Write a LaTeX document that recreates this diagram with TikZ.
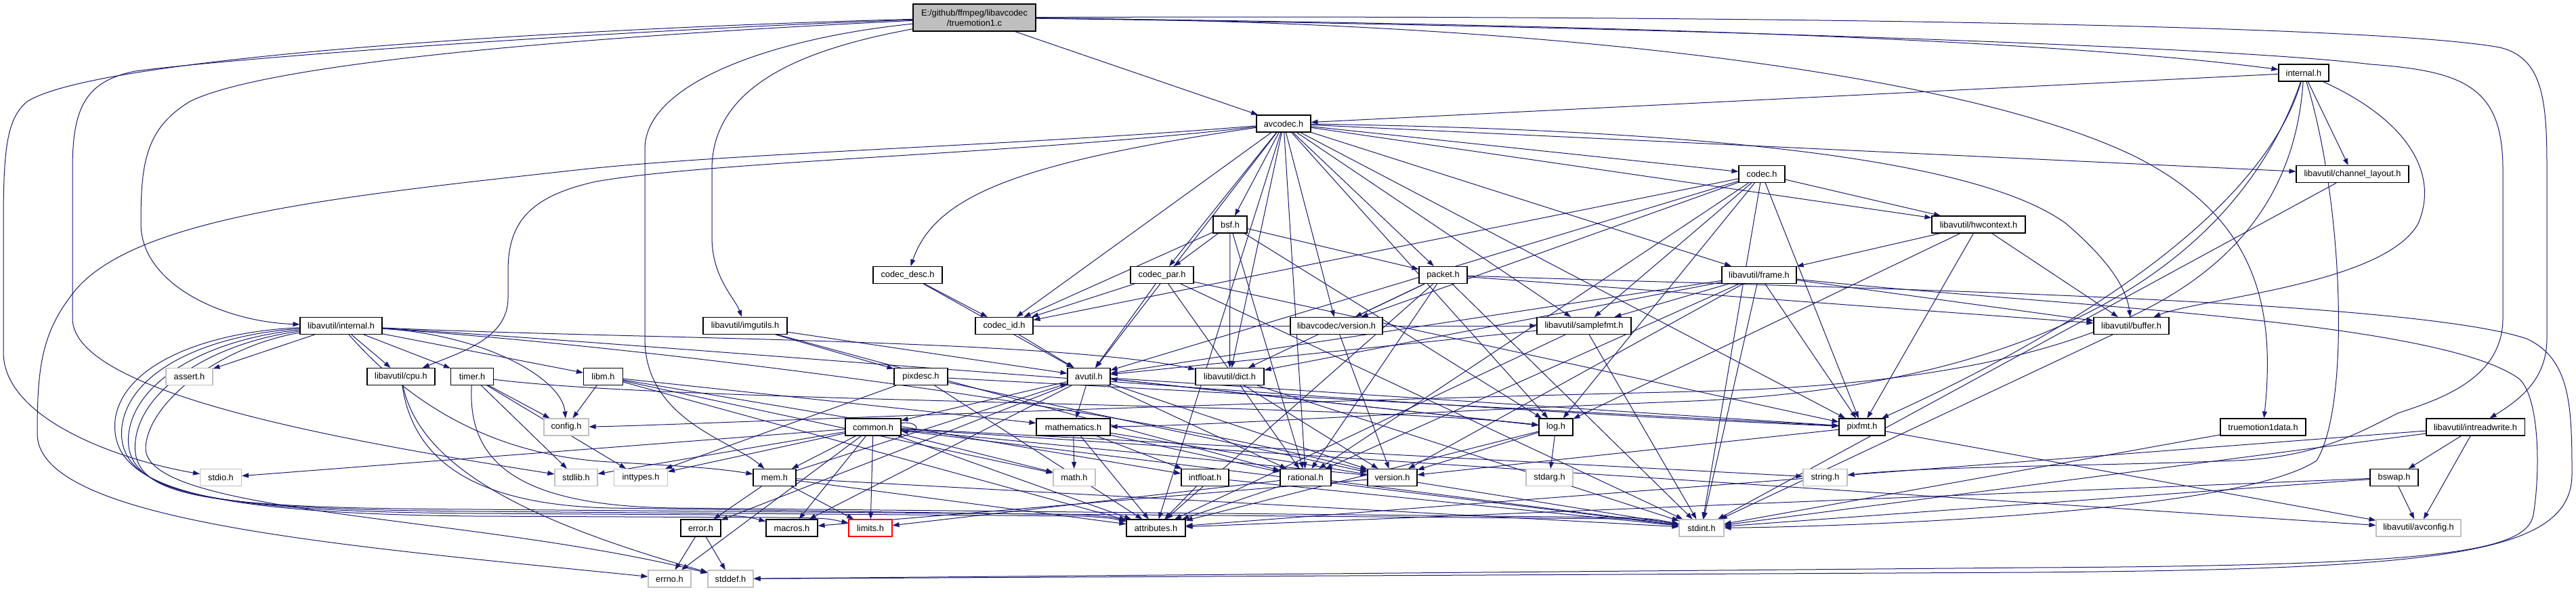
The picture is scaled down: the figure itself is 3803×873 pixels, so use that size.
\documentclass[tikz,border=0pt]{standalone}
\usepackage{fontspec}
\setmainfont{Liberation Sans}
\usetikzlibrary{arrows.meta}
\definecolor{edgec}{RGB}{25,25,112}
\definecolor{grayb}{RGB}{191,191,191}
\pgfdeclarelayer{bg}
\pgfsetlayers{bg,main}
\begin{document}
\begin{tikzpicture}[x=1pt,y=-1pt,
  nb/.style={draw=black, line width=1.1pt, fill=white, minimum height=25pt, inner sep=0pt, font=\fontsize{12.8pt}{15pt}\selectfont},
  ng/.style={nb, draw=grayb},
  nr/.style={nb, draw=red},
  e/.style={draw=edgec, line width=1pt, -{Triangle[length=10pt,width=7pt]}}]
\useasboundingbox (0,0) rectangle (3803,873);
% nodes
\node[nb,fill=grayb,minimum width=181pt,minimum height=40pt,align=center] (root) at (1438.5,26) {E:/github/ffmpeg/libavcodec\\/truemotion1.c};
\node[nb,minimum width=80pt] (avcodec) at (1895,182.5) {avcodec.h};
\node[nb,minimum width=74pt] (lcinternal) at (3401,107.5) {internal.h};
\node[nb,minimum width=68pt] (codec) at (2601,257) {codec.h};
\node[nb,minimum width=166pt] (chlayout) at (3473,257) {libavutil/channel\_layout.h};
\node[nb,minimum width=50pt] (bsf) at (1816,331.5) {bsf.h};
\node[nb,minimum width=138pt] (hwctx) at (2921,331.5) {libavutil/hwcontext.h};
\node[nb,minimum width=102pt] (cdesc) at (1340,406) {codec\_desc.h};
\node[nb,minimum width=93pt] (cpar) at (1715.5,406) {codec\_par.h};
\node[nb,minimum width=71pt] (packet) at (2130.5,406) {packet.h};
\node[nb,minimum width=110pt] (frame) at (2597,406) {libavutil/frame.h};
\node[nb,minimum width=121pt] (luinternal) at (503.5,481) {libavutil/internal.h};
\node[nb,minimum width=124pt] (imgutils) at (1100,481) {libavutil/imgutils.h};
\node[nb,minimum width=85pt] (cid) at (1482.5,481) {codec\_id.h};
\node[nb,minimum width=136pt] (lcversion) at (1973,481) {libavcodec/version.h};
\node[nb,minimum width=139pt] (samplefmt) at (2338.5,481) {libavutil/samplefmt.h};
\node[nb,minimum width=111pt] (buffer) at (3146.5,481) {libavutil/buffer.h};
\node[ng,minimum width=69pt] (assert) at (279.5,556) {assert.h};
\node[nb,minimum width=100pt] (cpu) at (592,556) {libavutil/cpu.h};
\node[nb,minimum width=63pt] (timer) at (697,556) {timer.h};
\node[nb,minimum width=58pt] (libm) at (890.5,556) {libm.h};
\node[nb,minimum width=79pt] (pixdesc) at (1359.5,556) {pixdesc.h};
\node[nb,minimum width=63pt] (avutil) at (1607.5,556) {avutil.h};
\node[nb,minimum width=101pt] (dict) at (1815.5,556) {libavutil/dict.h};
\node[ng,minimum width=66pt] (config) at (836,630.5) {config.h};
\node[nb,minimum width=82pt] (common) at (1289,630.5) {common.h};
\node[nb,minimum width=109pt] (mathem) at (1584.5,630.5) {mathematics.h};
\node[nb,minimum width=50pt] (log) at (2297,630.5) {log.h};
\node[nb,minimum width=68pt] (pixfmt) at (2749,630.5) {pixfmt.h};
\node[nb,minimum width=126pt] (tmdata) at (3341,630.5) {truemotion1data.h};
\node[nb,minimum width=145pt] (intrw) at (3654.5,630.5) {libavutil/intreadwrite.h};
\node[ng,minimum width=61pt] (stdio) at (326,705) {stdio.h};
\node[ng,minimum width=63pt] (stdlib) at (850.5,705) {stdlib.h};
\node[ng,minimum width=79pt] (inttypes) at (946,705) {inttypes.h};
\node[nb,minimum width=63pt] (mem) at (1143.5,705) {mem.h};
\node[ng,minimum width=62pt] (math) at (1586,705) {math.h};
\node[nb,minimum width=70pt] (intfloat) at (1779,705) {intfloat.h};
\node[nb,minimum width=75pt] (rational) at (1927.5,705) {rational.h};
\node[nb,minimum width=73pt] (version) at (2055.5,705) {version.h};
\node[ng,minimum width=69pt] (stdarg) at (2287.5,705) {stdarg.h};
\node[ng,minimum width=65pt] (string) at (2694.5,705) {string.h};
\node[nb,minimum width=71pt] (bswap) at (3534.5,705) {bswap.h};
\node[nb,minimum width=59pt] (error) at (1034.5,779.5) {error.h};
\node[nb,minimum width=76pt] (macros) at (1169,779.5) {macros.h};
\node[nr,minimum width=64pt] (limits) at (1285,779.5) {limits.h};
\node[nb,minimum width=87pt] (attributes) at (1706.5,779.5) {attributes.h};
\node[ng,minimum width=66pt] (stdint) at (2512,779.5) {stdint.h};
\node[ng,minimum width=125pt] (avconfig) at (3570.5,779.5) {libavutil/avconfig.h};
\node[ng,minimum width=63pt] (errno) at (988.5,854.5) {errno.h};
\node[ng,minimum width=67pt] (stddef) at (1078.5,854.5) {stddef.h};
\begin{pgfonlayer}{bg}
\fill[white] (0,0) rectangle (3803,873);
% straight edges
\foreach \a/\b in {root/avcodec,
 avcodec/samplefmt, avcodec/attributes, avcodec/avutil, avcodec/chlayout, avcodec/dict, avcodec/frame, avcodec/hwctx, avcodec/log, avcodec/pixfmt, avcodec/rational, avcodec/bsf, avcodec/codec, avcodec/cpar, avcodec/cid, avcodec/packet, avcodec/lcversion,
 lcinternal/avcodec, lcinternal/chlayout,
 codec/stdint, codec/avutil, codec/hwctx, codec/log, codec/pixfmt, codec/rational, codec/samplefmt, codec/cid, codec/lcversion,
 chlayout/stdint,
 bsf/dict, bsf/log, bsf/rational, bsf/cid, bsf/cpar, bsf/packet,
 hwctx/buffer, hwctx/frame, hwctx/log, hwctx/pixfmt,
 cdesc/avutil, cdesc/cid,
 cpar/stdint, cpar/avutil, cpar/rational, cpar/pixfmt, cpar/cid,
 packet/stdint, packet/attributes, packet/buffer, packet/dict, packet/rational, packet/lcversion,
 frame/stdint, frame/avutil, frame/buffer, frame/dict, frame/rational, frame/samplefmt, frame/pixfmt, frame/version,
 luinternal/assert, luinternal/timer, luinternal/cpu, luinternal/libm,
 imgutils/avutil, imgutils/pixdesc, imgutils/rational,
 cid/avutil, cid/samplefmt,
 lcversion/version,
 samplefmt/stdint, samplefmt/avutil, samplefmt/attributes,
 buffer/stdint,
 timer/config, timer/stdlib, timer/inttypes,
 libm/math, libm/config, libm/attributes, libm/intfloat, libm/mathem,
 pixdesc/inttypes, pixdesc/attributes, pixdesc/pixfmt, pixdesc/version,
 avutil/common, avutil/error, avutil/rational, avutil/version, avutil/macros, avutil/mathem, avutil/log, avutil/pixfmt,
 dict/stdint, dict/version,
 common/errno, common/inttypes, common/limits, common/math, common/stdint, common/stdio, common/stdlib, common/string, common/attributes, common/macros, common/version, common/avconfig, common/mem,
 mathem/stdint, mathem/math, mathem/attributes, mathem/rational, mathem/intfloat,
 log/stdarg, log/avutil, log/attributes, log/version,
 pixfmt/avconfig, pixfmt/version,
 tmdata/stdint,
 intrw/stdint, intrw/avconfig, intrw/attributes, intrw/bswap,
 mem/limits, mem/stdint, mem/attributes, mem/error, mem/avutil,
 intfloat/stdint, intfloat/attributes,
 rational/stdint, rational/limits, rational/attributes,
 version/macros,
 bswap/stdint, bswap/avconfig, bswap/attributes,
 error/errno, error/stddef}
 {\draw[e] (\a) -- (\b);}
% root curved edges
\draw[e] (root) .. controls (900,40) and (150,80) .. (40,150) .. controls (10,175) and (5,220) .. (5,330) -- (5,520) .. controls (5,620) and (180,680) .. (stdio);
\draw[e] (root) .. controls (900,45) and (350,85) .. (200,105) .. controls (125,120) and (107,160) .. (107,250) -- (107,470) .. controls (107,580) and (500,650) .. (stdlib);
\draw[e] (root) .. controls (900,52) and (400,90) .. (280,150) .. controls (215,190) and (208,240) .. (208,330) .. controls (208,420) and (330,475) .. (luinternal);
\draw[e] (root) .. controls (1200,70) and (1051,120) .. (1051,250) -- (1051,350) .. controls (1051,410) and (1085,440) .. (imgutils);
\draw[e] (root) .. controls (1150,55) and (952,120) .. (952,220) -- (952,500) .. controls (952,620) and (1080,650) .. (mem);
\draw[e] (root) .. controls (2300,35) and (3000,55) .. (lcinternal);
\draw[e] (root) .. controls (2300,32) and (2900,110) .. (3150,230) .. controls (3330,320) and (3360,450) .. (tmdata);
\draw[e] (root) .. controls (2500,22) and (3500,35) .. (3690,70) .. controls (3755,85) and (3760,150) .. (3760,250) -- (3760,500) .. controls (3760,560) and (3720,590) .. (intrw);
\draw[e] (root) .. controls (2500,40) and (3300,70) .. (3500,95) .. controls (3640,105) and (3695,130) .. (3695,250) -- (3695,470) .. controls (3695,560) and (3600,590) .. (3540,610) .. controls (3480,640) and (3420,675) .. (3300,680) .. controls (3100,688) and (2850,688) .. (string);
% avcodec curved edges
\draw[e] (avcodec) .. controls (1500,215) and (1100,225) .. (860,250) .. controls (500,290) and (200,320) .. (110,430) .. controls (62,490) and (55,540) .. (55,640) .. controls (55,770) and (500,805) .. (errno);
\draw[e] (avcodec) .. controls (1500,228) and (1050,238) .. (880,268) .. controls (780,290) and (750,330) .. (750,400) -- (750,440) .. controls (750,500) and (680,520) .. (cpu);
\draw[e] (avcodec) .. controls (2400,190) and (2900,220) .. (3050,330) .. controls (3120,390) and (3140,430) .. (buffer);
\draw[e] (avcodec) .. controls (1500,240) and (1380,290) .. (cdesc);
% libavcodec/internal.h curved edges
\draw[e] (lcinternal) .. controls (3560,180) and (3600,260) .. (3570,330) .. controls (3520,420) and (3250,440) .. (buffer);
\draw[e] (lcinternal) .. controls (3300,400) and (3000,570) .. (2500,592) .. controls (2000,612) and (1800,628) .. (mathem);
\draw[e] (lcinternal) .. controls (3330,350) and (2950,540) .. (pixfmt);
\draw[e] (lcinternal) .. controls (3460,300) and (3470,600) .. (3420,680) .. controls (3300,760) and (2700,778) .. (stdint);
\draw[e] (lcinternal) .. controls (3380,420) and (3100,565) .. (2500,578) .. controls (1600,600) and (1000,628) .. (config);
% packet / frame to stddef
\draw[e] (packet) .. controls (2700,425) and (3550,440) .. (3730,500) .. controls (3795,530) and (3797,600) .. (3797,700) .. controls (3797,820) and (3600,840) .. (3000,845) -- (stddef);
\draw[e] (frame) .. controls (3000,450) and (3600,470) .. (3720,560) .. controls (3750,590) and (3750,700) .. (3740,760) .. controls (3730,815) and (3600,835) .. (3000,838) -- (stddef);
% libavutil/internal.h curved edges
\draw[e] (luinternal) .. controls (300,490) and (180,540) .. (170,620) .. controls (160,720) and (300,758) .. (700,762) -- (1150,764) .. controls (1220,765) .. (limits);
\draw[e] (luinternal) .. controls (300,495) and (190,550) .. (180,630) .. controls (170,725) and (300,755) .. (700,758) -- (1050,760) .. controls (1100,762) .. (macros);
\draw[e] (luinternal) .. controls (310,500) and (200,560) .. (190,640) .. controls (180,730) and (300,752) .. (700,755) -- (1600,762) .. controls (1640,765) .. (attributes);
\draw[e] (luinternal) .. controls (320,505) and (210,570) .. (200,650) .. controls (190,735) and (300,750) .. (700,752) -- (2400,766) .. controls (2440,768) .. (stdint);
\draw[e] (luinternal) .. controls (330,510) and (220,590) .. (215,660) .. controls (210,760) and (700,760) .. (stddef);
\draw[e] (luinternal) .. controls (720,495) and (830,560) .. (config);
\draw[e] (luinternal) .. controls (600,590) and (720,672) .. (900,682) .. controls (1000,688) and (1050,690) .. (mem);
\draw[e] (luinternal) .. controls (900,500) and (1550,500) .. (dict);
\draw[e] (luinternal) .. controls (1000,510) and (2000,600) .. (pixfmt);
\draw[e] (luinternal) .. controls (1000,515) and (1700,610) .. (version);
% cpu, timer
\draw[e] (cpu) .. controls (620,690) and (780,770) .. (stddef);
\draw[e] (cpu) .. controls (610,680) and (700,745) .. (900,750) -- (1600,760) .. controls (1640,763) .. (attributes);
\draw[e] (timer) .. controls (690,680) and (760,748) .. (1000,750) -- (2400,764) .. controls (2440,766) .. (stdint);
\draw[e] (timer) .. controls (1000,595) and (2000,595) .. (log);
% common self loop
\draw[e] ([yshift=6pt]common.east) .. controls +(28pt,3pt) and +(28pt,-3pt) .. ([yshift=-6pt]common.east);
\end{pgfonlayer}
\end{tikzpicture}
\end{document}
